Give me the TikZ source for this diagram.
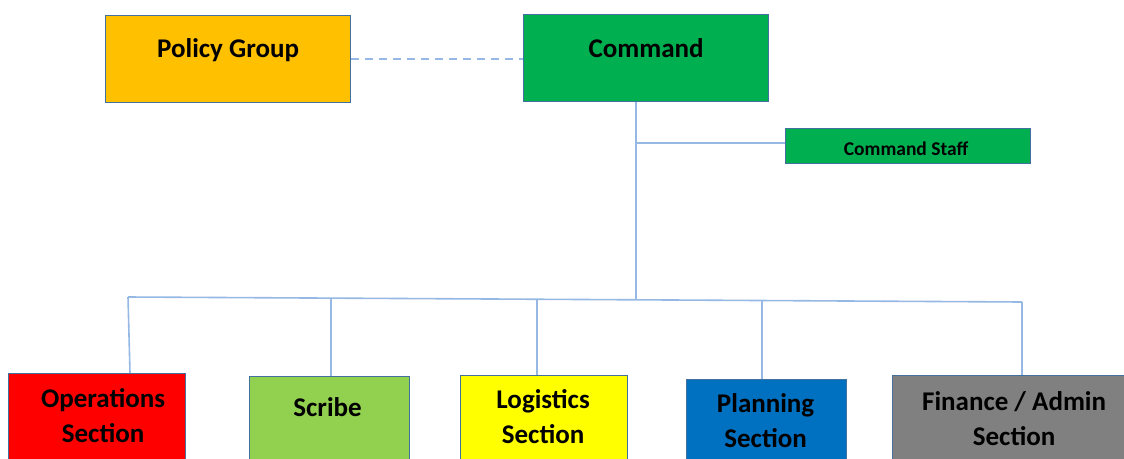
\documentclass[tikz,border=0pt]{standalone}
\usepackage{fontspec}
\setmainfont{Carlito}
\definecolor{lineblue}{HTML}{95B9E4}
\definecolor{edgeblue}{HTML}{41719C}
\definecolor{policyfill}{HTML}{FFC000}
\definecolor{cmdfill}{HTML}{00B050}
\definecolor{opsfill}{HTML}{FF0000}
\definecolor{scribefill}{HTML}{92D050}
\definecolor{logfill}{HTML}{FFFF00}
\definecolor{planfill}{HTML}{0070C0}
\definecolor{finfill}{HTML}{808080}
\begin{document}
\begin{tikzpicture}[x=1pt,y=-1pt,
  box/.style={draw=edgeblue, line width=1.2pt, rectangle, inner sep=0pt, anchor=north west},
  lbl/.style={font=\bfseries\fontsize{27}{35}\selectfont, align=center, inner sep=0pt, text=black},
  smalllbl/.style={font=\bfseries\fontsize{19.5}{22}\selectfont, inner sep=0pt, text=black},
  conn/.style={draw=lineblue, line width=1.6pt},
  dashconn/.style={draw=lineblue, line width=1.6pt, dash pattern=on 8pt off 6pt}]
\useasboundingbox (0,0) rectangle (1124,458);
\clip (0,0) rectangle (1124,458);

% top boxes
\node[box, fill=policyfill, minimum width=245, minimum height=87] (pg) at (105,15) {};
\node[lbl] (pgT) at ([yshift=-35pt]pg.north) {Policy Group};
\node[box, fill=cmdfill, minimum width=245, minimum height=87] (cmd) at (523,14) {};
\node[lbl] (cmdT) at ([yshift=-34pt]cmd.north) {Command};
\node[box, fill=cmdfill, minimum width=245, minimum height=35] (staff) at (785,128) {};
\node[smalllbl] (staffT) at ([xshift=-2pt,yshift=-3pt]staff.center) {Command Staff};

% bottom boxes
\node[box, fill=opsfill, minimum width=177, minimum height=120] (ops) at (8,373) {};
\node[lbl] (opsT) at ([xshift=6pt,yshift=-43pt]ops.north) {Operations\\Section};
\node[box, fill=scribefill, minimum width=160, minimum height=120] (scribe) at (249,376) {};
\node[lbl] (scribeT) at ([xshift=-2pt,yshift=-31pt]scribe.north) {Scribe};
\node[box, fill=logfill, minimum width=167, minimum height=120] (log) at (460,375) {};
\node[lbl] (logT) at ([xshift=-1pt,yshift=-42pt]log.north) {Logistics\\Section};
\node[box, fill=planfill, minimum width=160, minimum height=120] (plan) at (686,379) {};
\node[lbl] (planT) at ([xshift=-1pt,yshift=-42pt]plan.north) {Planning\\Section};
\node[box, fill=finfill, minimum width=245, minimum height=120] (fin) at (892,375) {};
\node[lbl] (finT) at ([xshift=-1pt,yshift=-44pt]fin.north) {Finance / Admin\\Section};

% connectors
\draw[dashconn] (pg.east) -- (cmd.west |- pg.east);
\coordinate (junc) at (636,299.8);
\coordinate (staffJ) at (636,143);
\draw[conn] (cmd.south -| junc) -- (junc);
\draw[conn] (staffJ) -- (staff.west |- staffJ);
\coordinate (busL) at (128,297);
\coordinate (busR) at (1022,302);
\draw[conn] (busL) -- (junc) -- (busR);
\coordinate (dScribe) at (331,298.1);
\coordinate (dLog) at (537,299.3);
\coordinate (dPlan) at (762,300.5);
\draw[conn] (busL) -- (130,0 |- ops.north);
\draw[conn] (dScribe) -- (dScribe |- scribe.north);
\draw[conn] (dLog) -- (dLog |- log.north);
\draw[conn] (dPlan) -- (dPlan |- plan.north);
\draw[conn] (busR) -- (busR |- fin.north);
\end{tikzpicture}
\end{document}
